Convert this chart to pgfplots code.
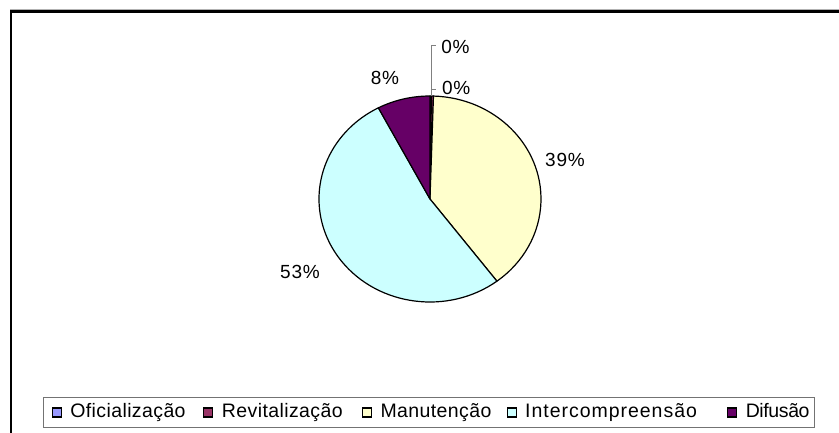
\documentclass[border=0pt]{standalone}
\usepackage{fontspec}
\setmainfont{Liberation Sans}
\newfontfamily\spaced{Liberation Sans}[LetterSpace=4]
\newfontfamily\lspaced{Liberation Sans}[LetterSpace=2]
\newfontfamily\wspaced{Liberation Sans}[LetterSpace=5]
\newfontfamily\tspaced{Liberation Sans}[LetterSpace=-2]
\usepackage{pgfplots}
\usepackage{pgfplotstable}
\pgfplotsset{compat=1.18}
\definecolor{c0}{HTML}{9999FF}
\definecolor{c1}{HTML}{993366}
\definecolor{c2}{HTML}{FFFFCC}
\definecolor{c3}{HTML}{CCFFFF}
\definecolor{c4}{HTML}{660066}
\pgfplotsset{sq/.style={legend image code/.code={\draw[##1,line width=1.1pt] (0pt,-4.5pt) rectangle (9pt,4.5pt);}}}
\pgfplotstableread{
idx value
0 0.2
1 0.3
2 39.2
3 52.6
4 7.7
}\piedata
\begin{document}
\begin{tikzpicture}[x=1pt,y=1pt]
\useasboundingbox (0,0) rectangle (839,432);
\fill[white] (0,0) rectangle (839,432);
\draw[gray!60, line width=0.8] (10,423) -- (845,423);
\draw[black, line width=2.5] (11,-5) -- (11,420.5) -- (845,420.5);
\begin{axis}[at={(430pt,233pt)}, anchor=center, x=111pt, y=103pt,
  xmin=-1, xmax=1, ymin=-1, ymax=1, hide axis, clip=false,
  legend columns=5,
  legend style={at={(-1.2446,-0.5364)}, anchor=west, draw=black!55, line width=1.2pt,
    inner xsep=8.5pt, inner ysep=6pt, font=\lspaced\fontsize{19.5}{21}\selectfont,
    nodes={inner xsep=0pt, inner ysep=0pt, text height=13.5pt, text depth=4pt},
    /tikz/every odd column/.append style={column sep=8.5pt},
    /tikz/every even column/.append style={column sep=0pt}}]
\xdef\cum{0}
\pgfplotsinvokeforeach{0,1,2,3,4}{
  \pgfplotstablegetelem{#1}{value}\of\piedata
  \let\val\pgfplotsretval
  \pgfmathsetmacro\sa{90-3.6*\cum}
  \pgfmathsetmacro\ea{90-3.6*(\cum+\val)}
  \pgfmathsetmacro\newcum{\cum+\val}
  \xdef\cum{\newcum}
  \edef\tmp{\noexpand\filldraw[fill=c#1, draw=black, line width=1.2pt, line join=round] (axis cs:0,0) -- (axis cs:{cos(\sa)},{sin(\sa)}) arc[start angle=\sa, end angle=\ea, x radius=111pt, y radius=103pt] -- cycle;}
  \tmp
}
\draw[gray, line width=0.8pt] (axis cs:0.009,1.0) -- (axis cs:0.009,1.495) -- (axis cs:0.054,1.495);
\draw[gray, line width=0.8pt] (axis cs:0.009,1.068) -- (axis cs:0.054,1.068);
\begin{scope}[every node/.style={font=\spaced\fontsize{19}{21}\selectfont, inner sep=0pt}]
\node at (axis cs:1.216,0.379) {39\%};
\node at (axis cs:-1.171,-0.709) {53\%};
\node at (axis cs:-0.405,1.175) {8\%};
\node[anchor=west] at (axis cs:0.100,1.476) {0\%};
\node[anchor=west] at (axis cs:0.108,1.078) {0\%};
\end{scope}
\addlegendimage{sq, fill=c0, draw=black}
\addlegendimage{sq, fill=c1, draw=black}
\addlegendimage{sq, fill=c2, draw=black}
\addlegendimage{sq, fill=c3, draw=black}
\addlegendimage{sq, fill=c4, draw=black}
\legend{\makebox[133pt][l]{Oficialização}, \makebox[140pt][l]{Revitalização}, \makebox[126pt][l]{Manutenção}, \makebox[202pt][l]{\wspaced Intercompreensão}, \makebox[60pt][l]{\tspaced Difusão}}
\end{axis}
\end{tikzpicture}
\end{document}
